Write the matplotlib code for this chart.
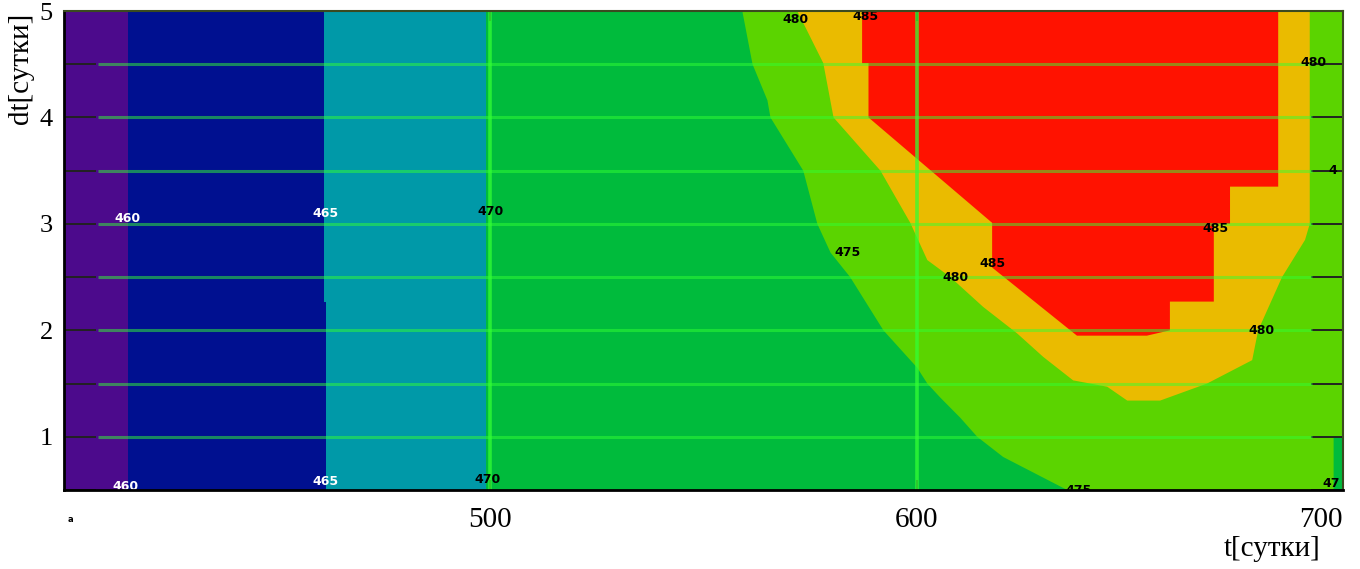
import numpy as np
import matplotlib
matplotlib.use("Agg")
import matplotlib.pyplot as plt

# ---- data (contour boundaries) ----
levels = [460, 465, 470, 475, 480, 485]
band_colors = ['#4c0a8c', '#001090', '#0099a8', '#00bb3c', '#5bd400', '#eabb00', '#ff1200']

# vertical contour lines (t) for 460/465/470
c460_dt = [0.5, 5.0]
c460_t = [415.0, 415.0]
c465_dt = [0.5, 2.27, 2.27, 5.0]
c465_t = [461.4, 461.4, 460.9, 460.9]
c470_dt = [0.5, 5.0]
c470_t = [499.0, 499.0]

# 475 contour: left boundary of the >475 region
c475_left_dt = [0.5, 0.81, 1.0, 1.18, 1.37, 1.5, 1.65, 2.0, 2.5, 2.73, 3.0, 3.5, 4.0, 4.16, 4.5, 5.0]
c475_left_t = [635.3, 620.3, 614.2, 610.2, 605.5, 602.5, 600.1, 592.2, 584.4, 579.8, 576.7, 573.4, 565.7, 565.0, 561.5, 559.1]
c475_right_dt = [0.5, 1.0, 1.0, 5.0]
c475_right_t = [697.8, 697.8, 700.0, 700.0]

# 480 contour
c480_left_dt = [1.34, 1.47, 1.53, 1.75, 1.97, 2.22, 2.5, 2.66, 3.01, 3.5, 4.0, 4.51, 5.0]
c480_left_t = [649.4, 644.7, 636.7, 629.7, 623.6, 615.6, 607.9, 602.5, 598.5, 591.5, 580.5, 578.1, 572.0]
c480_right_dt = [1.34, 1.5, 1.72, 2.0, 2.5, 2.85, 3.0, 5.0]
c480_right_t = [657.1, 668.1, 678.7, 680.1, 685.7, 691.1, 692.2, 692.2]

# 485 contour
c485_left_dt = [1.95, 2.59, 3.01, 4.0, 4.51, 4.51, 5.0]
c485_left_t = [637.6, 617.7, 617.7, 588.7, 588.7, 587.2, 587.2]
c485_right_dt = [1.95, 2.0, 2.27, 2.27, 3.0, 3.0, 3.35, 3.35, 5.0]
c485_right_t = [654.0, 659.4, 659.4, 669.7, 669.7, 673.5, 673.5, 684.8, 684.8]

# contour labels: (t, dt, text, color)
label_t = [415, 414.5, 461.4, 461.4, 500, 499.4, 583.7, 637.9, 697.2, 571.5, 609.0, 693.0, 681.0, 588.0, 617.7, 670.0, 697.6]
label_dt = [3.05, 0.53, 3.1, 0.58, 3.12, 0.6, 2.73, 0.50, 0.56, 4.92, 2.5, 4.52, 2.0, 4.95, 2.63, 2.96, 3.5]
label_txt = ['460', '460', '465', '465', '470', '470', '475', '475', '47', '480', '480', '480', '480', '485', '485', '485', '4']
label_col = ['white', 'white', 'white', 'white', 'black', 'black', 'black', 'black', 'black',
             'black', 'black', 'black', 'black', 'black', 'black', 'black', 'black']

x_ticks = [500, 600, 700]
y_ticks = [1, 2, 3, 4, 5]
x_label = 't[сутки]'
y_label = 'dt[сутки]'

T_MIN, T_MAX, DT_MIN, DT_MAX = 400, 700, 0.5, 5.0

fig = plt.figure(figsize=(13.6, 5.69), dpi=100)
ax = fig.add_axes([64 / 1360, 1 - 490 / 569, 1279 / 1360, 479 / 569])
ax.set_xlim(T_MIN, T_MAX)
ax.set_ylim(DT_MIN, DT_MAX)
ax.set_facecolor(band_colors[0])


def region(ldt, lt, rdt, rt, color):
    xs = list(lt) + list(rt)[::-1]
    ys = list(ldt) + list(rdt)[::-1]
    ax.fill(xs, ys, color=color, lw=0, zorder=1)


full_dt = [DT_MIN, DT_MAX]
region(c460_dt, c460_t, full_dt, [T_MAX, T_MAX], band_colors[1])
region(c465_dt, c465_t, full_dt, [T_MAX, T_MAX], band_colors[2])
region(c470_dt, c470_t, full_dt, [T_MAX, T_MAX], band_colors[3])
region(c475_left_dt, c475_left_t, c475_right_dt, c475_right_t, band_colors[4])
region(c480_left_dt, c480_left_t, c480_right_dt, c480_right_t, band_colors[5])
region(c485_left_dt, c485_left_t, c485_right_dt, c485_right_t, band_colors[6])

# grid lines
grid_y = np.arange(1.0, 4.51, 0.5)
ax.hlines(grid_y, 408.0, 692.7, colors='#33ff33', alpha=0.5, lw=2.2, zorder=2)
ax.vlines([500, 600], DT_MIN, DT_MAX, colors='#33ff33', alpha=0.75, lw=2.6, zorder=2)

for t, d, s, c in zip(label_t, label_dt, label_txt, label_col):
    ax.text(t, d, s, color=c, fontsize=9, fontweight='bold', ha='center', va='center',
            family='DejaVu Sans', zorder=4, clip_on=True)

# ticks
ax.set_yticks(np.arange(0.5, 5.01, 0.5))
ax.set_yticklabels(['' if v not in y_ticks else str(int(v)) for v in np.arange(0.5, 5.01, 0.5)])
ax.set_xticks(x_ticks)
ax.set_xticklabels([str(v) for v in x_ticks])
ax.tick_params(axis='y', direction='in', length=23, width=1.4, color='#222222',
               left=True, right=True, labelsize=19, pad=8)
ax.tick_params(axis='x', direction='in', length=7, width=1.4, color='#222222',
               top=True, bottom=True, labelsize=21, pad=12)
for lab in ax.get_xticklabels() + ax.get_yticklabels():
    lab.set_family('Liberation Serif')
ax.get_xticklabels()[-1].set_horizontalalignment('right')

for s in ['top', 'right']:
    ax.spines[s].set_color('#3a4a20')
    ax.spines[s].set_linewidth(1.5)
for s in ['left', 'bottom']:
    ax.spines[s].set_color('black')
    ax.spines[s].set_linewidth(2)
for s in ax.spines.values():
    s.set_zorder(5)

fig.text(1272 / 1360, 1 - 549 / 569, x_label, fontsize=21, family='Liberation Serif',
         ha='center', va='center')
fig.text(21 / 1360, 1 - 68 / 569, y_label, fontsize=21, family='Liberation Serif',
         ha='center', va='center', rotation=90)

fig.text(70 / 1360, 1 - 520 / 569, 'a', fontsize=6, fontweight='bold', ha='center', va='center')

fig.savefig('out.png', dpi=100)
